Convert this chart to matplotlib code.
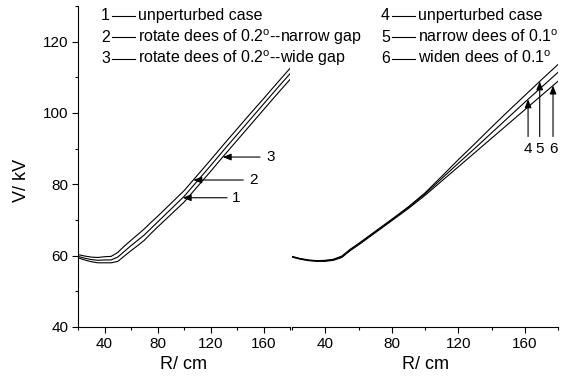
import matplotlib
matplotlib.use('Agg')
import matplotlib.pyplot as plt
from matplotlib.lines import Line2D
from matplotlib.ticker import MultipleLocator
import numpy as np

plt.rcParams['font.family'] = ['Liberation Sans', 'DejaVu Sans']
plt.rcParams['mathtext.default'] = 'regular'

# R in cm, V in kV
R = [20, 25, 30, 35, 40, 45, 50, 55, 60, 65, 70, 75, 80, 90, 100, 110, 120, 130, 140, 150, 160, 170, 180]

# left panel: 1 unperturbed, 2 narrow gap, 3 wide gap
V1 = [59.8, 59.3, 58.9, 58.7, 58.8, 58.8, 59.6, 61.2, 62.8, 64.3, 65.8, 67.6, 69.4, 73.0, 76.6, 80.9, 85.2, 89.6, 93.9, 98.2, 102.5, 106.8, 111.0]
V2 = [60.3, 59.9, 59.6, 59.5, 59.7, 59.8, 60.9, 62.7, 64.3, 65.9, 67.5, 69.3, 71.0, 74.6, 78.2, 82.5, 86.8, 91.2, 95.5, 99.8, 104.0, 108.3, 112.5]
V3 = [59.4, 58.8, 58.3, 58.0, 58.0, 58.0, 58.4, 59.9, 61.4, 62.8, 64.3, 66.2, 68.0, 71.5, 75.0, 79.3, 83.6, 88.0, 92.3, 96.6, 100.9, 105.2, 109.4]

# right panel: 4 unperturbed, 5 narrow dees, 6 widen dees
V4 = [59.7, 59.1, 58.7, 58.5, 58.6, 58.9, 59.7, 61.6, 63.2, 64.9, 66.6, 68.3, 70.0, 73.5, 77.3, 81.6, 85.9, 90.1, 94.4, 98.7, 103.0, 107.2, 111.4]
V5 = [59.8, 59.2, 58.8, 58.6, 58.7, 59.0, 59.9, 61.8, 63.4, 65.1, 66.8, 68.5, 70.2, 73.7, 77.6, 82.2, 86.9, 91.4, 96.0, 100.5, 104.9, 109.3, 113.6]
V6 = [59.6, 59.0, 58.6, 58.4, 58.4, 58.7, 59.5, 61.4, 63.0, 64.7, 66.4, 68.1, 69.8, 73.2, 76.9, 80.9, 84.9, 88.9, 92.9, 96.9, 100.9, 104.9, 108.9]

left_labels = ['unperturbed case', 'rotate dees of 0.2$^{o}$--narrow gap', 'rotate dees of 0.2$^{o}$--wide gap']
right_labels = ['unperturbed case', 'narrow dees of 0.1$^{o}$', 'widen dees of 0.1$^{o}$']

W, H = 562, 382
fig = plt.figure(figsize=(W / 100, H / 100), dpi=100)

def fx(px):
    return px / W

def fy(py):
    return 1 - py / H

ax1 = fig.add_axes([fx(78), fy(327), fx(290) - fx(78), fy(6) - fy(327)])
ax2 = fig.add_axes([fx(292), fy(327), fx(558) - fx(292), fy(6) - fy(327)])

for v in (V1, V2, V3):
    ax1.plot(R, v, color='k', lw=0.8)
for v in (V4, V5, V6):
    ax2.plot(R, v, color='k', lw=0.8)

for ax in (ax1, ax2):
    ax.set_xlim(20, 180)
    ax.set_ylim(40, 130)
    ax.spines['top'].set_visible(False)
    ax.spines['right'].set_visible(False)
    ax.xaxis.set_major_locator(MultipleLocator(40))
    ax.xaxis.set_minor_locator(MultipleLocator(20))
    ax.yaxis.set_major_locator(MultipleLocator(20))
    ax.yaxis.set_minor_locator(MultipleLocator(10))
    ax.tick_params(which='major', direction='out', length=4, width=0.8, labelsize=11, pad=3)
    ax.tick_params(which='minor', direction='out', length=2.5, width=0.8)
    ax.set_xticks([40, 80, 120, 160])
    ax.set_xlabel('R/ cm', fontsize=13, labelpad=4)
    ax.set_facecolor('none')
    for s in ax.spines.values():
        s.set_linewidth(0.8)

ax2.spines['left'].set_visible(False)
ax2.tick_params(axis='y', which='both', left=False, labelleft=False)

fig.text(fx(22), fy(180), 'V/ kV', rotation=90, fontsize=13, ha='center', va='center')

# arrows, left panel
arrow_kw = dict(arrowstyle='-|>,head_length=0.5,head_width=0.2', color='k', lw=0.8,
                mutation_scale=10, shrinkA=0, shrinkB=0)
for lab, v, r_tip, r_tail, r_txt in [('1', V1, 99, 132.5, 136), ('2', V2, 107, 144.7, 149.5),
                                     ('3', V3, 129.2, 157.4, 162)]:
    vt = np.interp(r_tip, R, v)
    ax1.annotate('', xy=(r_tip, vt), xytext=(r_tail, vt), arrowprops=arrow_kw)
    ax1.text(r_txt, vt, lab, fontsize=11, ha='left', va='center')

# arrows, right panel
for lab, v, r_tip in [('4', V4, 162), ('5', V5, 169), ('6', V6, 177)]:
    vt = np.interp(r_tip, R, v)
    ax2.annotate('', xy=(r_tip, vt), xytext=(r_tip, 93.4), arrowprops=arrow_kw)
    ax2.text(r_tip, 90.0, lab, fontsize=11, ha='center', va='center')

# legend-like keys
for x0, labels, nums in [(101, left_labels, '123'), (381, right_labels, '456')]:
    for i, (lab, n) in enumerate(zip(labels, nums)):
        base = 20 + i * 21.7
        fig.text(fx(x0), fy(base), n, fontsize=11.5, ha='left', va='baseline')
        fig.add_artist(Line2D([fx(x0 + 10.5), fx(x0 + 34)], [fy(base - 4.3)] * 2,
                              transform=fig.transFigure, color='k', lw=0.8))
        fig.text(fx(x0 + 37.5), fy(base), lab, fontsize=11.5, ha='left', va='baseline')

fig.savefig('out.png', dpi=100)
